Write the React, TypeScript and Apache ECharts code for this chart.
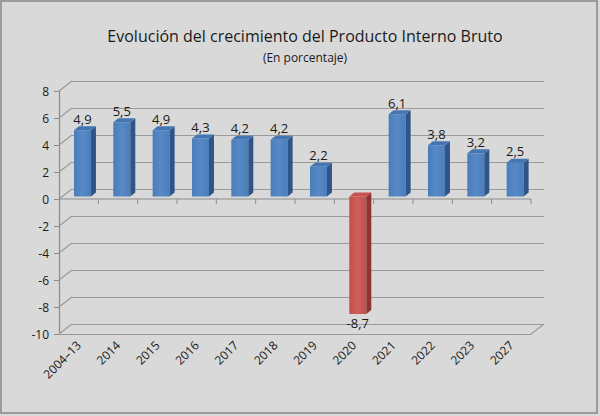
import React, { useEffect, useRef } from "react";
import * as echarts from "echarts";

const categories = ["2004–13", "2014", "2015", "2016", "2017", "2018", "2019", "2020", "2021", "2022", "2023", "2027"];
const values = [4.9, 5.5, 4.9, 4.3, 4.2, 4.2, 2.2, -8.7, 6.1, 3.8, 3.2, 2.5];
const yTicks = [-10, -8, -6, -4, -2, 0, 2, 4, 6, 8];
const titleText = "Evolución del crecimiento del Producto Interno Bruto";
const subtitleText = "(En porcentaje)";

const FONT = "'Open Sans', 'Noto Sans', sans-serif";
const DX = 13;
const DY = 10;
const GRID_COLOR = "#9a9a9a";
const AXIS_COLOR = "#8c8c8c";

function fmt(v: number) {
  return v.toFixed(1).replace(".", ",");
}

export default function App() {
  const ref = useRef<HTMLDivElement>(null);
  useEffect(() => {
    if (!ref.current) return;
    const chart = echarts.init(ref.current, undefined, { renderer: "svg" });

    const frameRender = (params: any, api: any) => {
      const cs = params.coordSys;
      const x0 = cs.x;
      const x1 = cs.x + cs.width;
      const children: any[] = [];
      const line = (a: number, b: number, c: number, d: number) => ({
        type: "line",
        shape: { x1: a, y1: b, x2: c, y2: d },
        style: { stroke: GRID_COLOR, lineWidth: 1.2 },
        silent: true,
      });
      yTicks.forEach((v) => {
        const y = api.coord([0, v])[1];
        children.push(line(x0, y, x0 + DX, y - DY));
      });
      const yb = api.coord([0, -10])[1];
      children.push(line(x1, yb, x1 + DX, yb - DY));
      const yz = api.coord([0, 0])[1];
      children.push({
        type: "line",
        shape: { x1: x0, y1: yz, x2: x1, y2: yz },
        style: { stroke: AXIS_COLOR, lineWidth: 1.2 },
        silent: true,
      });
      const band = cs.width / categories.length;
      for (let k = 1; k <= categories.length; k++) {
        const x = x0 + band * k;
        children.push({
          type: "line",
          shape: { x1: x, y1: yz, x2: x, y2: yz + 5 },
          style: { stroke: AXIS_COLOR, lineWidth: 1 },
          silent: true,
        });
      }
      return { type: "group", children };
    };

    const barRender = (params: any, api: any) => {
      const i = api.value(0);
      const v = api.value(1);
      const p = api.coord([i, v]);
      const y0 = api.coord([i, 0])[1];
      const w = 17;
      const sx = 5;
      const sy = 4;
      const xl = p[0] + 3.8 - w / 2;
      const xr = xl + w;
      const yt = Math.min(p[1], y0) - 2.5;
      const yb = Math.max(p[1], y0) - 2.5;
      const neg = v < 0;
      const front = neg ? "#c0504d" : "#4a7ebb";
      const frontLight = neg ? "#cd5f5c" : "#5689c6";
      const side = neg ? "#8e3431" : "#2f5588";
      const top = neg ? "#c9504d" : "#4476b4";
      const children: any[] = [
        {
          type: "rect",
          shape: { x: xl, y: yt, width: w, height: yb - yt },
          style: {
            fill: new echarts.graphic.LinearGradient(0, 0, 1, 0, [
              { offset: 0, color: front },
              { offset: 0.5, color: frontLight },
              { offset: 1, color: front },
            ]),
          },
        },
        {
          type: "polygon",
          shape: { points: [[xr, yt], [xr + sx, yt - sy], [xr + sx, yb - sy], [xr, yb]] },
          style: { fill: side },
        },
        {
          type: "polygon",
          shape: { points: [[xl, yt], [xr, yt], [xr + sx, yt - sy], [xl + sx, yt - sy]] },
          style: { fill: top },
        },
        neg
          ? {
              type: "text",
              style: {
                text: fmt(v),
                x: xl + w / 2,
                y: yb + 3,
                align: "center",
                verticalAlign: "top",
                textAlign: "center",
                textVerticalAlign: "top",
                fill: "#1a1a1a",
                font: `13px ${FONT}`,
              },
            }
          : {
              type: "text",
              style: {
                text: fmt(v),
                x: xl + w / 2,
                y: yt - sy - 1,
                align: "center",
                verticalAlign: "bottom",
                textAlign: "center",
                textVerticalAlign: "bottom",
                fill: "#1a1a1a",
                font: `13px ${FONT}`,
              },
            },
      ];
      return { type: "group", children };
    };

    chart.setOption({
      animation: false,
      backgroundColor: "#d9d9d9",
      graphic: [
        {
          type: "rect",
          shape: { x: 1, y: 1, width: 596, height: 412 },
          style: { fill: "none", stroke: "#868686", lineWidth: 1.5 },
          silent: true,
          z: 100,
        },
        {
          type: "text",
          x: 305,
          y: 36,
          style: {
            text: titleText,
            align: "center",
            verticalAlign: "middle",
            textAlign: "center",
            textVerticalAlign: "middle",
            fill: "#1a1a1a",
            font: `16px ${FONT}`,
          },
        },
        {
          type: "text",
          x: 305,
          y: 57,
          style: {
            text: subtitleText,
            align: "center",
            verticalAlign: "middle",
            textAlign: "center",
            textVerticalAlign: "middle",
            fill: "#1a1a1a",
            font: `12px ${FONT}`,
          },
        },
      ],
      grid: [
        { left: 59, right: 69, top: 91, bottom: 82 },
        { left: 59 + DX, right: 69 - DX, top: 91 - DY, bottom: 82 + DY },
      ],
      xAxis: [
        {
          type: "category",
          gridIndex: 0,
          data: categories,
          axisLine: { onZero: false, lineStyle: { color: GRID_COLOR, width: 1.2 } },
          axisTick: { show: false },
          axisLabel: {
            rotate: 45,
            interval: 0,
            margin: 9,
            color: "#1a1a1a",
            fontFamily: FONT,
            fontSize: 12,
          },
          splitLine: { show: false },
        },
        {
          type: "category",
          gridIndex: 1,
          data: categories,
          show: false,
        },
      ],
      yAxis: [
        {
          type: "value",
          gridIndex: 0,
          min: -10,
          max: 8,
          interval: 2,
          axisLine: { show: true, lineStyle: { color: AXIS_COLOR, width: 1.2 } },
          axisTick: { show: true, length: 5, lineStyle: { color: AXIS_COLOR } },
          axisLabel: { margin: 10, color: "#1a1a1a", fontFamily: FONT, fontSize: 12 },
          splitLine: { show: false },
        },
        {
          type: "value",
          gridIndex: 1,
          min: -10,
          max: 8,
          interval: 2,
          axisLine: { show: false },
          axisTick: { show: false },
          axisLabel: { show: false },
          splitLine: { show: true, lineStyle: { color: GRID_COLOR, width: 1.2 } },
        },
      ],
      series: [
        {
          type: "custom",
          name: "frame",
          xAxisIndex: 0,
          yAxisIndex: 0,
          data: [[0, 0]],
          renderItem: frameRender,
          silent: true,
          z: 1,
        },
        {
          type: "custom",
          name: "PIB",
          xAxisIndex: 0,
          yAxisIndex: 0,
          data: values.map((v, i) => [i, v]),
          renderItem: barRender,
          clip: false,
          z: 3,
        },
      ],
    });
    return () => chart.dispose();
  }, []);

  return (
    <div style={{ position: "fixed", left: 0, top: 0, width: 600, height: 416, background: "#d9d9d9" }}>
      <div ref={ref} style={{ width: 600, height: 416 }} />
    </div>
  );
}
